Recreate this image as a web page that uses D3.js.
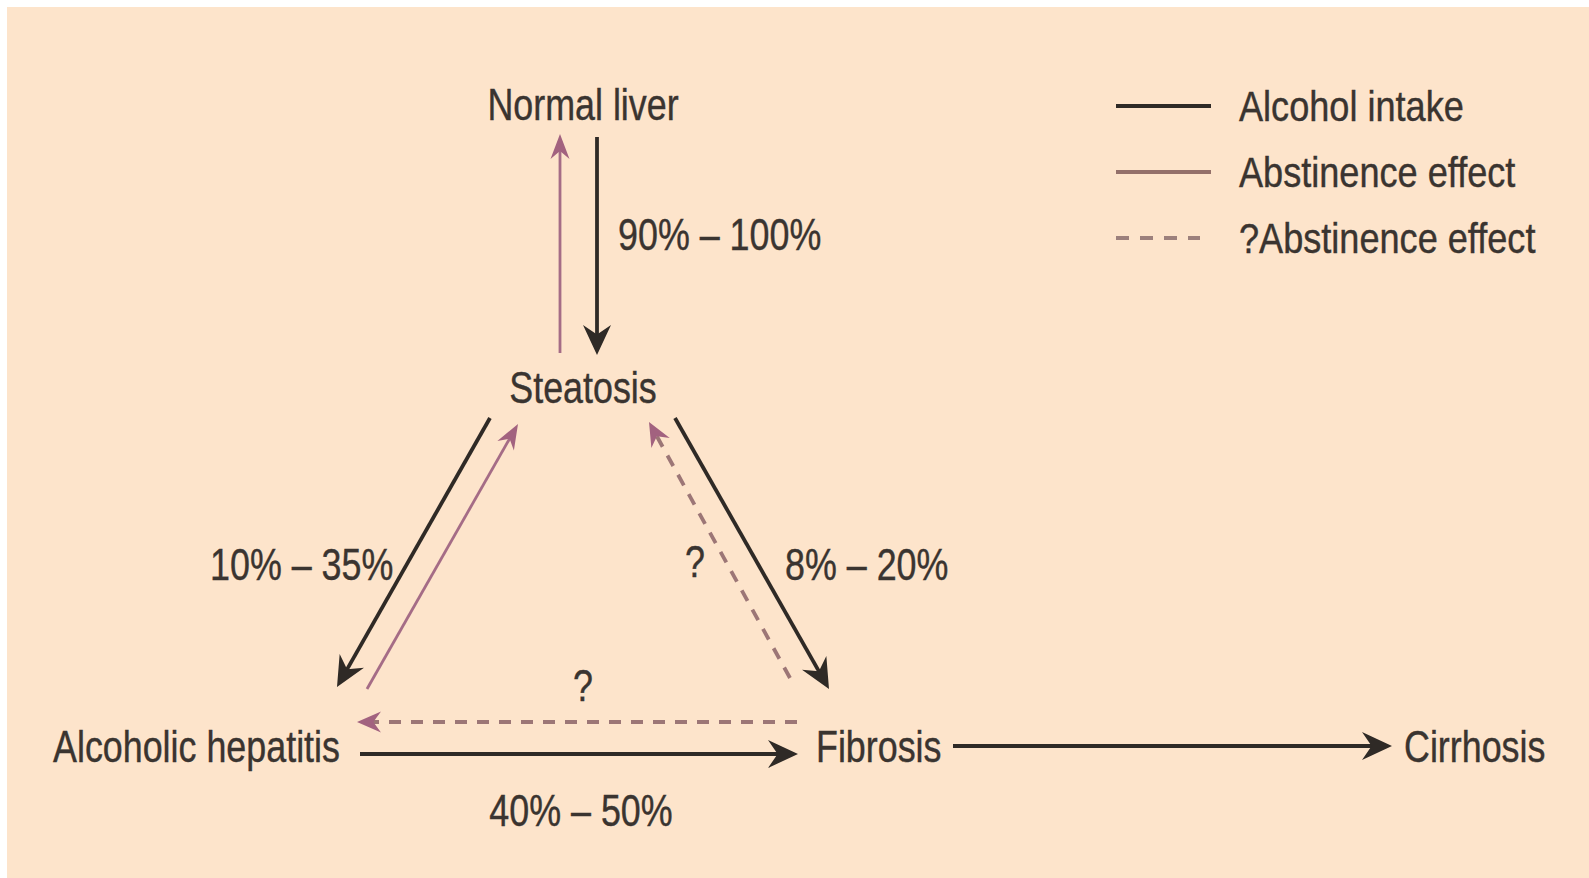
<!DOCTYPE html>
<html>
<head>
<meta charset="utf-8">
<script src="https://cdn.jsdelivr.net/npm/d3@7"></script>
<style>
  html, body { margin: 0; padding: 0; background: #fff; }
  text { font-family: "Liberation Sans Narrow", "Arial Narrow", "Liberation Sans", sans-serif; fill: #3a3430; stroke: #3a3430; stroke-width: 0.4px; }
</style>
</head>
<body>
<div id="chart"></div>
<script>
var width = 1589;
var height = 878;

// stages of liver disease
var stages = ["Normal liver", "Steatosis", "Alcoholic hepatitis", "Fibrosis", "Cirrhosis"];
// transitions: from, to, kind, label
var transitions = [
  ["Normal liver", "Steatosis", "intake", "90% – 100%"],
  ["Steatosis", "Normal liver", "abstinence", ""],
  ["Steatosis", "Alcoholic hepatitis", "intake", "10% – 35%"],
  ["Alcoholic hepatitis", "Steatosis", "abstinence", ""],
  ["Steatosis", "Fibrosis", "intake", "8% – 20%"],
  ["Fibrosis", "Steatosis", "maybe", "?"],
  ["Fibrosis", "Alcoholic hepatitis", "maybe", "?"],
  ["Alcoholic hepatitis", "Fibrosis", "intake", "40% – 50%"],
  ["Fibrosis", "Cirrhosis", "intake", ""]
];
var legendKinds = ["intake", "abstinence", "maybe"];
var legendText = ["Alcohol intake", "Abstinence effect", "?Abstinence effect"];

// layout (pixel geometry of the figure)
var nodePos = {
  "Normal liver":        {x: 583, y: 120, anchor: "middle"},
  "Steatosis":           {x: 583, y: 403, anchor: "middle"},
  "Alcoholic hepatitis": {x: 53,  y: 762, anchor: "start"},
  "Fibrosis":            {x: 816, y: 762, anchor: "start"},
  "Cirrhosis":           {x: 1404, y: 762, anchor: "start"}
};
// arrow start / tip for each transition, same order
var arrowGeom = [
  {x1: 597, y1: 137, x2: 597, y2: 355, lx: 618, ly: 250, la: "start"},
  {x1: 560, y1: 353, x2: 560, y2: 134},
  {x1: 490, y1: 418, x2: 337, y2: 687, lx: 210, ly: 580, la: "start"},
  {x1: 367, y1: 689, x2: 518, y2: 424},
  {x1: 675, y1: 418, x2: 829, y2: 689, lx: 785, ly: 580, la: "start"},
  {x1: 790, y1: 678, x2: 649, y2: 422, lx: 695, ly: 577, la: "middle"},
  {x1: 797, y1: 722, x2: 357, y2: 722, lx: 583, ly: 701, la: "middle"},
  {x1: 360, y1: 754, x2: 798, y2: 754, lx: 581, ly: 826, la: "middle"},
  {x1: 953, y1: 746, x2: 1392, y2: 746}
];

var kindColor = d3.scaleOrdinal()
  .domain(legendKinds)
  .range(["#2f2a26", "#a56c86", "#9c7676"]);
var headColor = d3.scaleOrdinal()
  .domain(legendKinds)
  .range(["#2f2a26", "#a2627f", "#a2627f"]);
var kindWidth = {intake: 3.8, abstinence: 2.8, maybe: 3.8};
var kindDash = {intake: null, abstinence: null, maybe: "12,10"};
var headSize = {intake: [30, 28], abstinence: [25, 19], maybe: [24, 21]};

var squeeze = 0.815;   // condensed face look

var svg = d3.select("#chart")
  .append("svg")
  .attr("width", width)
  .attr("height", height);

svg.append("rect")
  .attr("x", 7).attr("y", 7)
  .attr("width", width - 7).attr("height", height - 7)
  .attr("fill", "#fde4cb");

function label(x, y, anchor, size, sx, str){
  svg.append("text")
    .attr("transform", "translate(" + x + "," + y + ") scale(" + sx + ",1)")
    .attr("text-anchor", anchor)
    .style("font-size", size + "px")
    .text(str);
}

// arrows
transitions.forEach(function(t, i){
  var g = arrowGeom[i];
  var kind = t[2];
  var dx = g.x2 - g.x1, dy = g.y2 - g.y1;
  var len = Math.sqrt(dx*dx + dy*dy);
  var ux = dx/len, uy = dy/len;
  var L = headSize[kind][0], W = headSize[kind][1];
  var back = L*0.6;

  svg.append("line")
    .attr("x1", g.x1).attr("y1", g.y1)
    .attr("x2", g.x2 - ux*back).attr("y2", g.y2 - uy*back)
    .attr("stroke", kindColor(kind))
    .attr("stroke-width", kindWidth[kind])
    .attr("stroke-dasharray", kindDash[kind]);

  var ang = Math.atan2(dy, dx) * 180 / Math.PI;
  var head = d3.path();
  head.moveTo(0, 0);
  head.lineTo(-L, -W/2);
  head.lineTo(-L*0.68, 0);
  head.lineTo(-L, W/2);
  head.closePath();
  svg.append("path")
    .attr("d", head.toString())
    .attr("transform", "translate(" + g.x2 + "," + g.y2 + ") rotate(" + ang + ")")
    .attr("fill", headColor(kind));

  if(t[3]){
    label(g.lx, g.ly, g.la, 44, squeeze, t[3]);
  }
});

// stage names
stages.forEach(function(d){
  label(nodePos[d].x, nodePos[d].y, nodePos[d].anchor, 44, squeeze, d);
});

// legend
var legendY = d3.scalePoint().domain(legendKinds).range([106, 238]);
var legendLineColor = {intake: "#2f2a26", abstinence: "#94706a", maybe: "#9c807c"};

legendKinds.forEach(function(d, i){
  var y = legendY(d);
  svg.append("line")
    .attr("x1", 1116).attr("x2", d == "maybe" ? 1200 : 1211)
    .attr("y1", y).attr("y2", y)
    .attr("stroke", legendLineColor[d])
    .attr("stroke-width", 4)
    .attr("stroke-dasharray", d == "maybe" ? "13,11" : null);
  label(1239, y + 15, "start", 42, 0.86, legendText[i]);
});
</script>
</body>
</html>
